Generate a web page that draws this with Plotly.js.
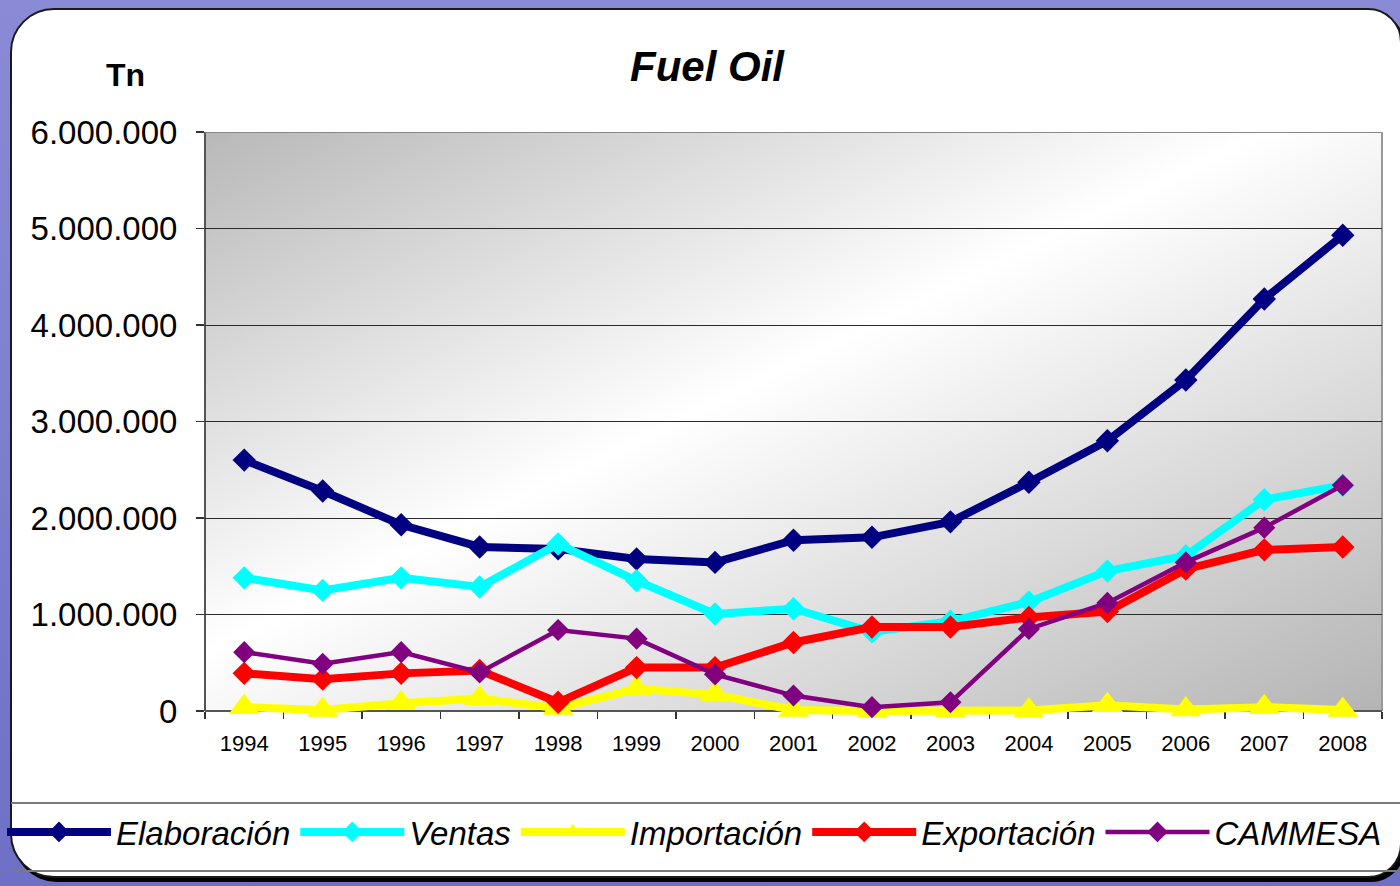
<!DOCTYPE html>
<html>
<head>
<meta charset="utf-8">
<script src="https://cdn.plot.ly/plotly-3.0.1.min.js"></script>
<style>
  html, body { margin: 0; padding: 0; width: 1400px; height: 886px; overflow: hidden; }
  body { background: linear-gradient(180deg, #8a8ad6 0%, #7f82cf 40%, #6d70c4 100%); position: relative; }
  #panel { position: absolute; left: 10px; top: 8px; width: 1392px; height: 870px; background: #ffffff;
           border: 2px solid #1a1a1a; border-radius: 44px 34px 34px 44px; box-shadow: 3px 4px 0 #000; box-sizing: border-box; }
  #chart { position: absolute; left: 0; top: 0; width: 1400px; height: 886px; }
</style>
</head>
<body>
<div id="panel"></div>
<div id="chart"></div>
<script>
const years = ['1994','1995','1996','1997','1998','1999','2000','2001','2002','2003','2004','2005','2006','2007','2008'];
const elaboracion = [2600000, 2280000, 1930000, 1700000, 1680000, 1575000, 1540000, 1770000, 1800000, 1960000, 2370000, 2800000, 3430000, 4270000, 4930000];
const ventas      = [1380000, 1250000, 1380000, 1285000, 1730000, 1350000, 1005000, 1060000, 820000, 930000, 1130000, 1450000, 1610000, 2190000, 2340000];
const importacion = [40000, 10000, 80000, 130000, 30000, 230000, 170000, 10000, 0, 5000, 5000, 60000, 15000, 40000, 10000];
const exportacion = [390000, 330000, 390000, 420000, 90000, 450000, 450000, 710000, 870000, 870000, 970000, 1030000, 1470000, 1670000, 1700000];
const cammesa     = [610000, 490000, 610000, 400000, 840000, 750000, 380000, 160000, 40000, 90000, 850000, 1120000, 1540000, 1900000, 2340000];

const seriesNames = ['Elaboración', 'Ventas', 'Importación', 'Exportación', 'CAMMESA'];
const yTicks = [0, 1000000, 2000000, 3000000, 4000000, 5000000, 6000000];
const yMax = 6000000;

function tr(name, y, color, width, symbol, msize) {
  return {
    type: 'scatter', mode: 'lines+markers', name: name, x: years, y: y,
    line: { color: color, width: width },
    marker: { color: color, symbol: symbol, size: msize, line: { width: 0 } },
    cliponaxis: false
  };
}

const data = [
  tr(seriesNames[0], elaboracion, '#000080', 8, 'diamond', 18),
  tr(seriesNames[1], ventas, '#00FFFF', 8, 'diamond', 18),
  tr(seriesNames[2], importacion, '#FFFF00', 8, 'triangle-up', 27),
  tr(seriesNames[3], exportacion, '#FF0000', 8, 'diamond', 18),
  tr(seriesNames[4], cammesa, '#800080', 4.5, 'diamond', 17)
];

const svg = '<svg xmlns="http://www.w3.org/2000/svg" width="1000" height="500" preserveAspectRatio="none" viewBox="0 0 1000 500">' +
  '<defs><linearGradient id="g" x1="0" y1="0" x2="1" y2="1">' +
  '<stop offset="0" stop-color="#b8b8b8"/><stop offset="0.45" stop-color="#ffffff"/><stop offset="1" stop-color="#b4b4b4"/>' +
  '</linearGradient></defs><rect width="1000" height="500" fill="url(#g)"/></svg>';
const bgSrc = 'data:image/svg+xml;charset=utf-8,' + encodeURIComponent(svg);

const FONT = 'Liberation Sans, Arial, sans-serif';
// pixel frame of the value area (0 .. yMax), plus a small extension below 0 so thick lines are not clipped
const L = 205, R = 1382, T = 132, B0 = 711, EXT = 14, W = 1400, H = 886;
const B = B0 + EXT;
const pxPerUnit = (B0 - T) / yMax;
const yMin = -EXT / pxPerUnit;
const px = v => (v - L) / (R - L);
const py = v => (B - v) / (B - T);

const layout = {
  width: W, height: H,
  paper_bgcolor: 'rgba(0,0,0,0)',
  plot_bgcolor: 'rgba(0,0,0,0)',
  margin: { l: L, r: W - R, t: T, b: H - B, pad: 0, autoexpand: false },
  separators: ',.',
  font: { family: FONT, color: '#000' },
  title: { text: '<b><i>Fuel Oil</i></b>', font: { size: 42, family: FONT, color: '#000' },
           x: 707 / W, xref: 'container', xanchor: 'center', y: 1 - 66 / H, yanchor: 'middle' },
  showlegend: true,
  legend: {
    orientation: 'h', x: px(2), xanchor: 'left', y: py(832), yanchor: 'middle',
    font: { size: 33, family: FONT, color: '#000', style: 'italic' },
    itemwidth: 104, bgcolor: 'rgba(0,0,0,0)', borderwidth: 0, traceorder: 'normal'
  },
  xaxis: {
    type: 'category', range: [-0.5, 14.5], showgrid: false, zeroline: false, automargin: false,
    anchor: 'free', position: py(B0), layer: 'below traces',
    showline: true, linecolor: '#555', linewidth: 2, mirror: false,
    ticks: 'outside', tickson: 'boundaries', ticklen: 7, tickcolor: '#333', tickwidth: 1.5,
    tickfont: { size: 22, family: FONT, color: '#000' }, ticklabelstandoff: 13,
    fixedrange: true
  },
  yaxis: {
    range: [yMin, yMax], tickvals: yTicks, tickformat: ',d', automargin: false,
    showgrid: true, gridcolor: '#2a2a2a', gridwidth: 1, zeroline: false,
    showline: false, layer: 'below traces',
    ticks: 'outside', ticklen: 8, tickcolor: '#333', tickwidth: 1.5,
    tickfont: { size: 33, family: FONT, color: '#000' }, ticklabelstandoff: 12,
    fixedrange: true
  },
  images: [{ source: bgSrc, xref: 'paper', yref: 'y', x: 0, y: yMax, sizex: 1, sizey: yMax,
             sizing: 'stretch', layer: 'below', xanchor: 'left', yanchor: 'top' }],
  annotations: [{
    text: '<b>Tn</b>', xref: 'paper', yref: 'paper', x: px(125), y: py(75),
    xanchor: 'center', yanchor: 'middle', showarrow: false,
    font: { size: 32, family: FONT, color: '#000' }
  }],
  shapes: [
    // plot-area frame: left axis, top and right border
    { type: 'line', xref: 'paper', yref: 'y', x0: 0, x1: 0, y0: 0, y1: yMax, line: { color: '#555', width: 2 }, layer: 'below' },
    { type: 'line', xref: 'paper', yref: 'y', x0: 0, x1: 1, y0: yMax, y1: yMax, line: { color: '#888', width: 2 }, layer: 'below' },
    { type: 'line', xref: 'paper', yref: 'y', x0: 1, x1: 1, y0: 0, y1: yMax, line: { color: '#999', width: 2 }, layer: 'below' },
    // legend box separators
    { type: 'line', xref: 'paper', yref: 'paper', x0: px(11), x1: px(1400), y0: py(803), y1: py(803),
      line: { color: '#7a7a7a', width: 2 } },
    { type: 'line', xref: 'paper', yref: 'paper', x0: px(11), x1: px(1400), y0: py(871), y1: py(871),
      line: { color: '#7a7a7a', width: 2 } }
  ]
};

Plotly.newPlot('chart', data, layout, { displayModeBar: false, staticPlot: true });
</script>
</body>
</html>
